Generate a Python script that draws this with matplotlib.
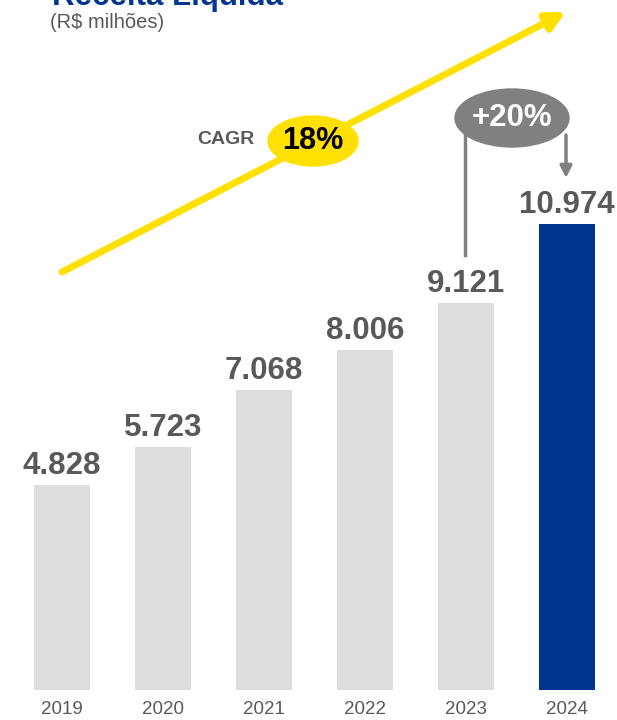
import matplotlib
matplotlib.use("Agg")
import matplotlib.pyplot as plt
from matplotlib.patches import Ellipse

plt.rcParams['font.family'] = ['Liberation Sans', 'DejaVu Sans']

# data
years = ["2019", "2020", "2021", "2022", "2023", "2024"]
receita = [4828, 5723, 7068, 8006, 9121, 10974]
labels = ["4.828", "5.723", "7.068", "8.006", "9.121", "10.974"]
cagr_txt = "18%"
growth_txt = "+20%"

GRAY = "#58595b"
BAR = "#dcddde"
BLUE = "#003591"
YELLOW = "#ffe000"

fig = plt.figure(figsize=(6.17, 7.2), dpi=100)
ax = fig.add_axes([0, 0, 1, 1])
# pixel mapping: bar centers at 62 + 101*i, baseline at 30 px from bottom
ppx = 101.0
ppy = 466.0 / 10974
ax.set_xlim(-62 / ppx, (617 - 62) / ppx)
ax.set_ylim(-30 / ppy, 690 / ppy)
ax.axis("off")

xs = list(range(len(years)))
colors = [BAR] * (len(years) - 1) + [BLUE]
ax.bar(xs, receita, width=56 / ppx, color=colors, zorder=2)

for x, v, t in zip(xs, receita, labels):
    ax.text(x, v + 11 / ppy, t, ha="center", va="baseline", fontsize=22.5,
            fontweight="bold", color=GRAY)
    ax.text(x, -20 / ppy, years[x], ha="center", va="center", fontsize=13.5,
            color=GRAY)


def px(xp, yp):
    # figure pixel (from top-left) -> data coords
    return (xp - 62) / ppx, (690 - yp) / ppy


# CAGR arrow
ax.annotate("", xy=px(566, 12), xytext=px(62, 272),
            arrowprops=dict(arrowstyle="-|>,head_length=1.1,head_width=0.55",
                            color=YELLOW, lw=5, shrinkA=0, shrinkB=0))
cx, cy = px(313, 141)
ax.add_patch(Ellipse((cx, cy), 90 / ppx, 50 / ppy, color=YELLOW, zorder=4))
ax.text(cx, cy, cagr_txt, ha="center", va="center", fontsize=22,
        fontweight="bold", color="black", zorder=5)
tx, ty = px(226, 139)
ax.text(tx, ty, "CAGR", ha="center", va="center", fontsize=14,
        fontweight="bold", color=GRAY)

# growth bubble
gx, gy = px(512, 118)
ax.add_patch(Ellipse((gx, gy), 114 / ppx, 58 / ppy, color="#808080", zorder=4))
ax.text(gx, gy, growth_txt, ha="center", va="center", fontsize=22.5,
        fontweight="bold", color="white", zorder=5)
ax.plot(*zip(px(465, 130), px(465, 255)), color="#808080", lw=2.5, zorder=3)
ax.annotate("", xy=px(566, 178), xytext=px(566, 135),
            arrowprops=dict(arrowstyle="-|>,head_length=0.7,head_width=0.35",
                            color="#808080", lw=2.5, shrinkA=0, shrinkB=0),
            zorder=3)

# titles (title is cut at the top edge, as in the source)
fig.text(52 / 617, 1 - 5 / 720, "Receita Líquida", ha="left", va="baseline",
         fontsize=22.5, fontweight="bold", color=BLUE)
fig.text(50 / 617, 1 - 22 / 720, "(R$ milhões)", ha="left", va="center",
         fontsize=14.5, color=GRAY)

fig.savefig("out.png", dpi=100)
